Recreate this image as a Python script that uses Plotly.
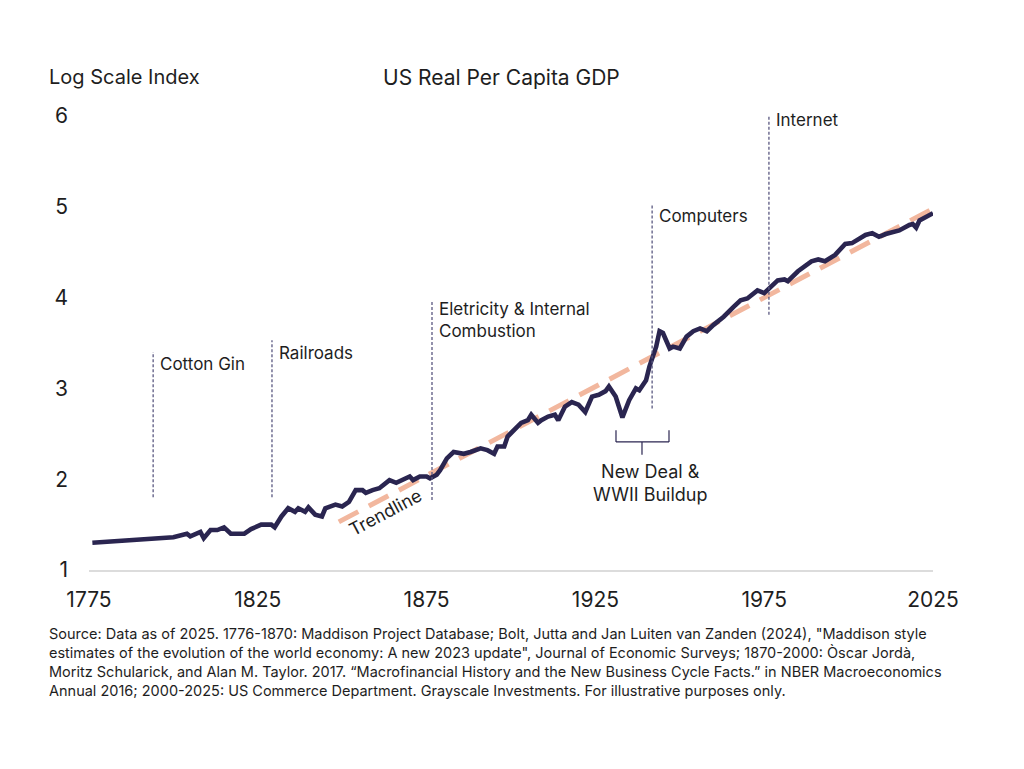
import plotly.graph_objects as go

# ---------------- data ----------------
years = [1776, 1780, 1785, 1790, 1795, 1800, 1804, 1805, 1808, 1809, 1811, 1813, 1815, 1817,
         1821, 1823, 1826, 1829, 1830, 1832, 1834, 1836, 1837, 1839, 1840, 1842, 1844, 1845,
         1848, 1850, 1852, 1854, 1856, 1857, 1859, 1861, 1864, 1866, 1870, 1871, 1873, 1875,
         1876, 1878, 1879, 1881, 1883, 1886, 1888, 1891, 1893, 1895, 1896, 1898, 1899, 1901,
         1903, 1905, 1906, 1908, 1909, 1911, 1913, 1914, 1916, 1918, 1920, 1922, 1924, 1926,
         1928, 1929, 1931, 1933, 1935, 1937, 1938, 1940, 1941, 1943, 1944, 1945, 1947, 1948,
         1950, 1952, 1954, 1956, 1958, 1960, 1963, 1966, 1968, 1970, 1973, 1975, 1979, 1981,
         1982, 1985, 1989, 1991, 1993, 1996, 1999, 2001, 2005, 2007, 2009, 2011, 2015, 2018,
         2019, 2020, 2021, 2025]
gdp_index = [1.30, 1.31, 1.32, 1.33, 1.34, 1.36, 1.40, 1.37, 1.42, 1.35, 1.44, 1.44, 1.47, 1.40,
             1.40, 1.45, 1.50, 1.50, 1.47, 1.59, 1.68, 1.64, 1.68, 1.64, 1.69, 1.61, 1.59, 1.68,
             1.72, 1.70, 1.75, 1.88, 1.88, 1.85, 1.88, 1.90, 1.99, 1.96, 2.03, 1.99, 2.03, 2.03,
             2.01, 2.05, 2.10, 2.23, 2.30, 2.28, 2.30, 2.34, 2.32, 2.28, 2.36, 2.36, 2.47, 2.54,
             2.62, 2.65, 2.71, 2.62, 2.65, 2.69, 2.71, 2.65, 2.80, 2.85, 2.82, 2.74, 2.91, 2.93,
             2.97, 3.02, 2.91, 2.68, 2.87, 3.00, 2.98, 3.09, 3.24, 3.46, 3.63, 3.61, 3.44, 3.46,
             3.44, 3.57, 3.63, 3.66, 3.63, 3.70, 3.79, 3.90, 3.97, 3.99, 4.08, 4.05, 4.19, 4.20,
             4.18, 4.29, 4.40, 4.42, 4.40, 4.47, 4.59, 4.60, 4.69, 4.71, 4.67, 4.70, 4.74, 4.80,
             4.81, 4.77, 4.85, 4.93]

trend_years = [1849, 2025]
trend_values = [1.53, 4.98]

event_names = ["Cotton Gin", "Railroads", "Eletricity & Internal<br>Combustion", "Computers", "Internet"]
event_years = [1794, 1829.2, 1876.6, 1941.8, 1976.4]
event_y0 = [1.80, 1.80, 1.77, 2.78, 3.81]
event_y1 = [3.40, 3.53, 3.97, 5.02, 6.07]
event_label_y = [3.27, 3.39, 3.75, 4.90, 5.96]

x_ticks = [1775, 1825, 1875, 1925, 1975, 2025]
y_ticks = [1, 2, 3, 4, 5, 6]

bracket_years = [1931.1, 1938.8, 1946.8]   # left, middle, right
bracket_levels = [2.54, 2.41, 2.27]        # end tops, bar, stem bottom

# ---------------- layout helpers ----------------
W, H = 1024, 769
L, R, T, B = 89, 933, 116, 570
FONT = "Inter, Roboto, 'Noto Sans', sans-serif"
TXT = "#1e1e1e"
NAVY = "#2a2550"
PEACH = "#f2b79e"
VGRAY = "#5a5880"


def px_x(p):
    return (p - L) / (R - L)


def px_y(p):
    return (B - p) / (B - T)


fig = go.Figure()

fig.add_trace(go.Scatter(x=trend_years, y=trend_values, mode="lines",
                         line=dict(color=PEACH, width=5, dash="22px,12px"),
                         hoverinfo="skip", showlegend=False))
fig.add_trace(go.Scatter(x=years, y=gdp_index, mode="lines",
                         line=dict(color=NAVY, width=4.6, shape="linear"),
                         showlegend=False))

shapes = []
annotations = []
for name, yr, y0, y1, ly in zip(event_names, event_years, event_y0, event_y1, event_label_y):
    shapes.append(dict(type="line", xref="x", yref="y", x0=yr, x1=yr, y0=y0, y1=y1,
                       line=dict(color=VGRAY, width=1.3, dash="3px,2px")))
    annotations.append(dict(x=yr, y=ly, xref="x", yref="y", text=name, showarrow=False,
                            xanchor="left", yanchor="middle", align="left", xshift=5,
                            font=dict(family=FONT, size=17, color=TXT)))

# bracket for New Deal & WWII Buildup
bl, bm, br = bracket_years
top, bar, stem = bracket_levels
for xa, ya, xb, yb in [(bl, top, bl, bar), (bl, bar, br, bar), (br, bar, br, top), (bm, bar, bm, stem)]:
    shapes.append(dict(type="line", xref="x", yref="y", x0=xa, y0=ya, x1=xb, y1=yb,
                       line=dict(color=NAVY, width=1.2)))

annotations.append(dict(x=1941.2, y=1.96, xref="x", yref="y", text="New Deal &<br>WWII Buildup",
                        showarrow=False, xanchor="center", yanchor="middle", align="center",
                        font=dict(family=FONT, size=18, color=TXT)))
annotations.append(dict(x=1862.7, y=1.63, xref="x", yref="y", text="Trendline", showarrow=False,
                        textangle=-28, xanchor="center", yanchor="middle",
                        font=dict(family=FONT, size=18, color=TXT)))

annotations.append(dict(x=px_x(47), y=px_y(77), xref="paper", yref="paper", text="Log Scale Index",
                        showarrow=False, xanchor="left", yanchor="middle",
                        font=dict(family=FONT, size=20, color=TXT)))
annotations.append(dict(x=px_x(381), y=px_y(77), xref="paper", yref="paper", text="US Real Per Capita GDP",
                        showarrow=False, xanchor="left", yanchor="middle",
                        font=dict(family=FONT, size=21, color=TXT)))

source = ("Source: Data as of 2025. 1776-1870: Maddison Project Database; Bolt, Jutta and Jan Luiten van Zanden (2024), \"Maddison style<br>"
          "estimates of the evolution of the world economy: A new 2023 update\", Journal of Economic Surveys; 1870-2000: Òscar Jordà,<br>"
          "Moritz Schularick, and Alan M. Taylor. 2017. “Macrofinancial History and the New Business Cycle Facts.” in NBER Macroeconomics<br>"
          "Annual 2016; 2000-2025: US Commerce Department. Grayscale Investments. For illustrative purposes only.")
annotations.append(dict(x=px_x(47), y=px_y(623), xref="paper", yref="paper", text=source,
                        showarrow=False, xanchor="left", yanchor="top", align="left",
                        font=dict(family=FONT, size=14.5, color=TXT)))

fig.update_layout(
    width=W, height=H,
    margin=dict(l=L, r=W - R, t=T, b=H - B, pad=0),
    paper_bgcolor="white", plot_bgcolor="white",
    shapes=shapes, annotations=annotations,
    showlegend=False,
    xaxis=dict(range=[1775, 2025], tickvals=x_ticks, ticktext=[str(v) for v in x_ticks],
               showgrid=False, zeroline=False, showline=True, linecolor="#dcdcdc", linewidth=2,
               ticks="", ticklabelstandoff=10,
               tickfont=dict(family=FONT, size=21, color=TXT)),
    yaxis=dict(range=[1, 6], tickvals=y_ticks, ticktext=[str(v) for v in y_ticks],
               showgrid=False, zeroline=False, showline=False, ticks="",
               ticklabelstandoff=20,
               tickfont=dict(family=FONT, size=21, color=TXT)),
)

fig.write_html("out.html")
